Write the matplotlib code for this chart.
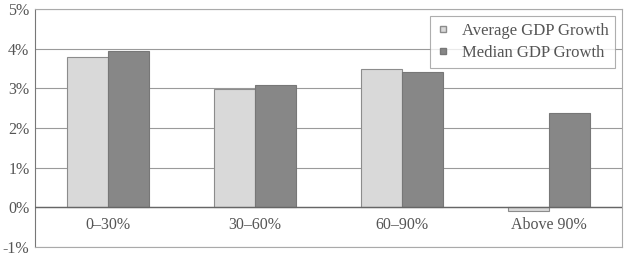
import numpy as np
import matplotlib.pyplot as plt
from matplotlib.lines import Line2D

categories = ["0\u201330%", "30\u201360%", "60\u201390%", "Above 90%"]
average_growth = [3.78, 2.99, 3.49, -0.08]
median_growth = [3.95, 3.08, 3.42, 2.39]
y_ticks = [-1, 0, 1, 2, 3, 4, 5]

plt.rcParams['font.family'] = ['Liberation Serif', 'DejaVu Serif']
text_color = '#555555'

fig = plt.figure(figsize=(6.27, 2.56), dpi=100)
ax = fig.add_axes([35/627, 9/256, 587/627, 238/256])

x = np.arange(len(categories))
w = 0.28
ax.bar(x - w/2, average_growth, w, color='#d9d9d9', edgecolor='#8c8c8c', linewidth=0.8,
       label='Average GDP Growth', zorder=3)
ax.bar(x + w/2, median_growth, w, color='#878787', edgecolor='#777777', linewidth=0.8,
       label='Median GDP Growth', zorder=3)

ax.set_xlim(-0.5, len(categories) - 0.5)
ax.set_ylim(-1, 5)
ax.set_yticks(y_ticks)
ax.set_yticklabels([f"{t}%" for t in y_ticks], color=text_color, fontsize=11.5)
ax.yaxis.grid(True, color='#9a9a9a', linewidth=0.8, zorder=0)
ax.axhline(0, color='#666666', linewidth=1.0, zorder=4)
ax.tick_params(axis='y', length=0, pad=4)
ax.tick_params(axis='x', length=0)
ax.set_xticks([])
for i, c in enumerate(categories):
    ax.text(i, -0.45, c, ha='center', va='center', color=text_color, fontsize=11.5)

for s in ['left', 'right', 'top', 'bottom']:
    ax.spines[s].set_color('#aaaaaa')
    ax.spines[s].set_linewidth(0.8)
ax.spines['left'].set_color('#777777')

handles = [Line2D([], [], marker='s', linestyle='none', markersize=5,
                  markerfacecolor='#d9d9d9', markeredgecolor='#8c8c8c'),
           Line2D([], [], marker='s', linestyle='none', markersize=5,
                  markerfacecolor='#878787', markeredgecolor='#777777')]
leg = ax.legend(handles, ['Average GDP Growth', 'Median GDP Growth'], loc='upper right',
                fontsize=12, frameon=True, fancybox=False, edgecolor='#9a9a9a',
                handlelength=0.8, handletextpad=0.7, borderpad=0.4, labelspacing=0.35,
                borderaxespad=0.3, bbox_to_anchor=(0.997, 0.99))
leg.get_frame().set_linewidth(0.8)
for t in leg.get_texts():
    t.set_color(text_color)
leg.set_zorder(5)

fig.savefig('out.png', dpi=100)
